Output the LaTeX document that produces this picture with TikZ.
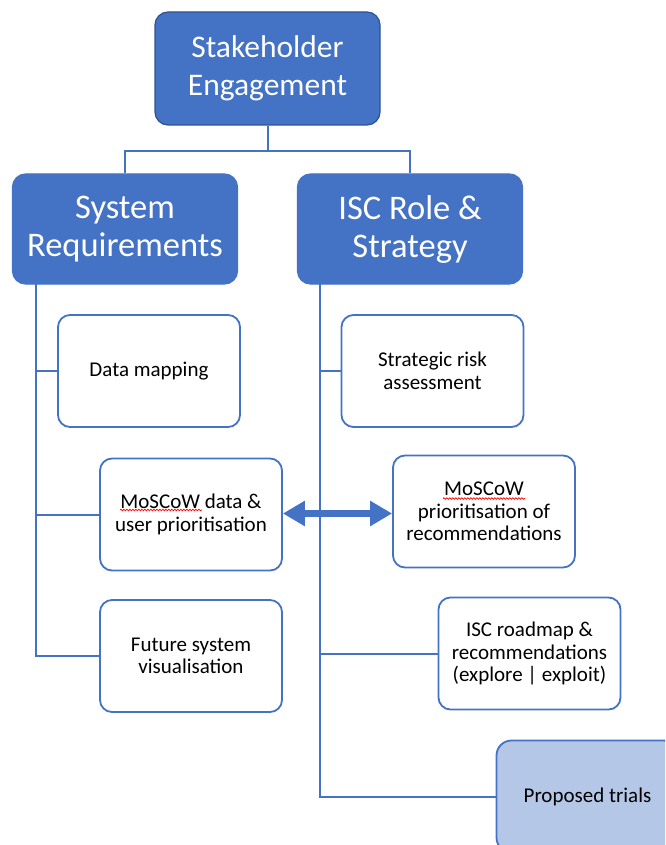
\documentclass[tikz,border=0pt]{standalone}
\usepackage{fontspec}
\setmainfont{Carlito}
\usetikzlibrary{arrows.meta,calc,decorations.pathmorphing}
\definecolor{accent}{RGB}{68,114,196}
\definecolor{accentdark}{RGB}{47,82,143}
\definecolor{lightfill}{RGB}{180,199,231}
\tikzset{
  bigbox/.style={rectangle, rounded corners=13pt, fill=accent, draw=accent, line width=1.2pt,
    text=white, align=center, inner sep=0pt},
  topbox/.style={bigbox, draw=accentdark, minimum width=225pt, minimum height=113pt,
    font=\fontsize{31.5}{38}\selectfont},
  levelbox/.style={bigbox, minimum width=225pt, minimum height=110pt,
    font=\fontsize{34.5}{38}\selectfont},
  itembox/.style={rectangle, rounded corners=12pt, fill=white, draw=accent, line width=1.8pt,
    text=black, align=center, inner sep=0pt, minimum width=182pt, minimum height=112pt,
    font=\fontsize{21}{22.5}\selectfont},
  trialbox/.style={itembox, fill=lightfill, rounded corners=15pt},
  conn/.style={draw=accent, line width=2pt},
  dblarrow/.style={draw=accent, line width=6.5pt,
    {Triangle[length=22pt,width=24pt]}-{Triangle[length=22pt,width=24pt]}},
  squig/.style={draw=red, line width=0.7pt, decorate,
    decoration={snake, amplitude=0.8pt, segment length=3pt}}
}
\begin{document}
\begin{tikzpicture}[x=1pt,y=-1pt]
\clip (0,0) rectangle (665,845);
\fill[white] (0,0) rectangle (665,845);

% top level
\node[topbox] (top) at (267.5,68.5) {Stakeholder\\Engagement};
\node[levelbox] (sysreq) at (125,229) {System\\Requirements};
\node[levelbox] (isc) at (410,229) {ISC Role \&\\Strategy};

% left items
\node[itembox] (dm) at (149,371) {Data mapping};
\node[itembox] (msd) at (191,514.5) {MoSCoW data \&\\user prioritisation};
\node[itembox] (fut) at (191,656) {Future system\\visualisation};

% right items
\node[itembox] (sra) at (432.5,371) {Strategic risk\\assessment};
\node[itembox] (msp) at (484,511.5) {MoSCoW\\prioritisation of\\recommendations};
\node[itembox] (road) at (529.5,653.5) {ISC roadmap \&\\recommendations\\(explore | exploit)};
\node[trialbox] (trials) at (587.5,796.5) {Proposed trials};

% connectors from top
\draw[conn] (top.south) -- ++(0,25.5) -| (sysreq.north);
\draw[conn] (top.south) -- ++(0,25.5) -| (isc.north);

% left spine
\coordinate (ls) at (36,284);
\draw[conn] (ls) |- (fut.west);
\draw[conn] (ls |- dm.west) -- (dm.west);
\draw[conn] (ls |- msd.west) -- (msd.west);

% right spine
\coordinate (rs) at (320,284);
\draw[conn] (rs) |- (trials.west);
\draw[conn] (rs |- sra.west) -- (sra.west);
\draw[conn] (rs |- road.west) -- (road.west);

% double arrow
\coordinate (aL) at ($(msd.east)+(0,-1)$);
\coordinate (aR) at (aL -| msp.west);
\draw[dblarrow] (aL) -- (aR);

% spell-check underlines
\draw[squig] ($(msd.center)+(-71,-4.5)$) -- ($(msd.center)+(11,-4.5)$);
\draw[squig] ($(msp.center)+(-41,-13)$) -- ($(msp.center)+(41,-13)$);
\end{tikzpicture}
\end{document}
